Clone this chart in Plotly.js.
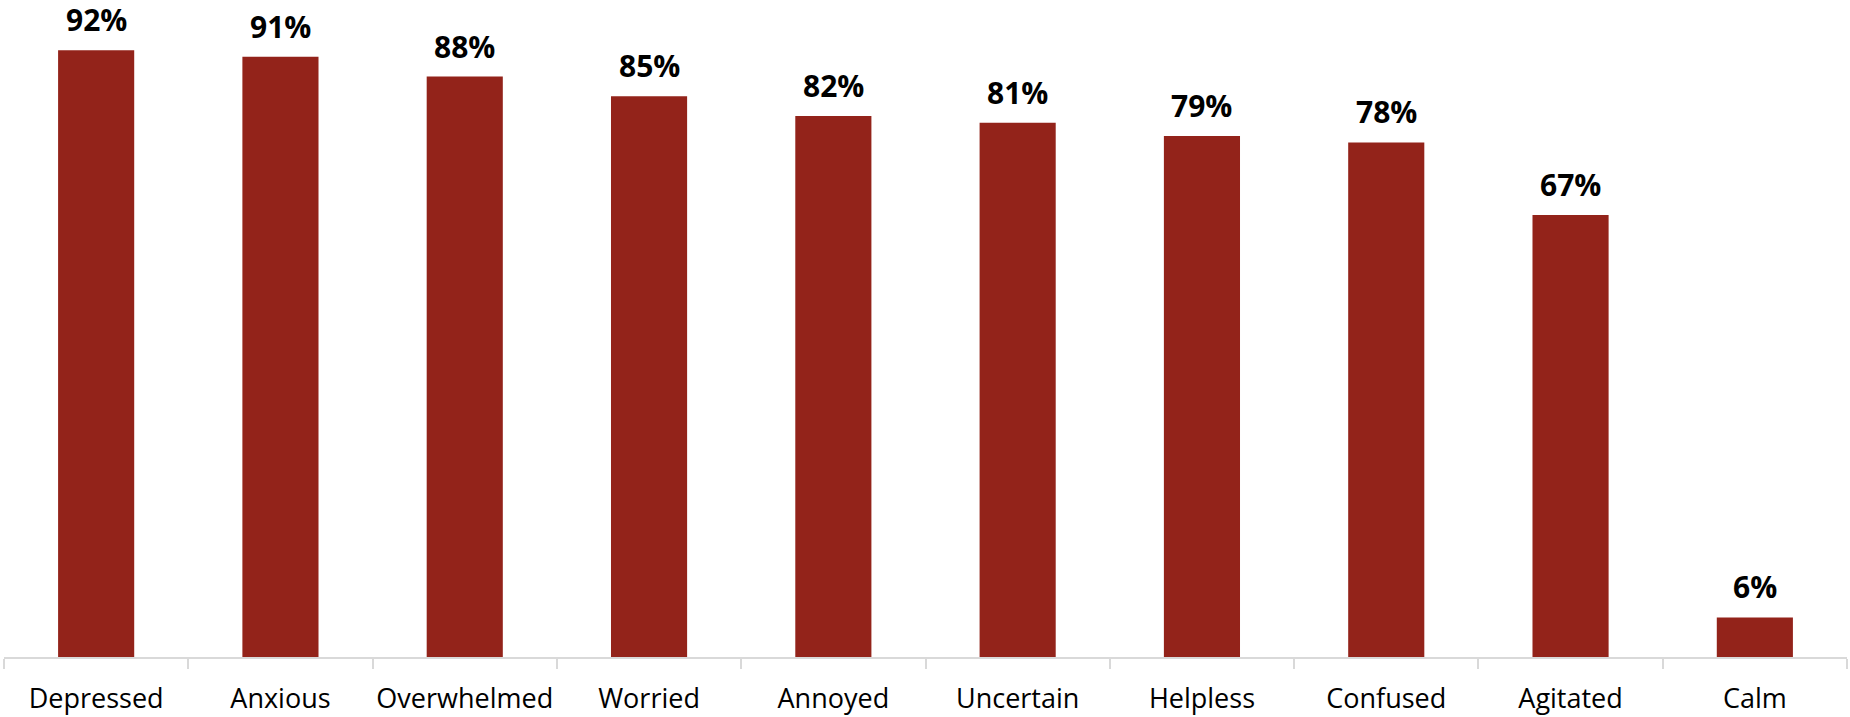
<!DOCTYPE html>
<html>
<head>
<meta charset="utf-8">
<script src="https://cdn.plot.ly/plotly-3.0.1.min.js"></script>
<style>html,body{margin:0;padding:0;background:#fff;}#chart{width:1850px;height:717px;}</style>
</head>
<body>
<div id="chart"></div>
<script>
const categories = ["Depressed","Anxious","Overwhelmed","Worried","Annoyed","Uncertain","Helpless","Confused","Agitated","Calm"];
const values = [92, 91, 88, 85, 82, 81, 79, 78, 67, 6];
const labels = values.map(v => v + "%");

const trace = {
  type: "bar",
  x: categories,
  y: values,
  marker: {color: "#93231A", line: {width: 0}},
  hoverinfo: "none",
  cliponaxis: false
};

const annotations = categories.map((c, i) => ({
  x: c, y: values[i], xref: "x", yref: "y",
  text: "<b>" + labels[i] + "</b>",
  showarrow: false, yanchor: "bottom", yshift: 9, borderpad: 0,
  font: {family: "Open Sans", size: 30, color: "#000"}
}));

const layout = {
  width: 1850, height: 717,
  margin: {l: 4, r: 3, t: 0, b: 60},
  paper_bgcolor: "#fff", plot_bgcolor: "#fff",
  bargap: 0.587,
  showlegend: false,
  xaxis: {
    type: "category",
    showline: true, linecolor: "#d9d9d9", linewidth: 2,
    ticks: "outside", tickson: "boundaries", ticklen: 10, tickcolor: "#d9d9d9", tickwidth: 2,
    tickangle: 0,
    ticklabelstandoff: 17,
    showgrid: false, zeroline: false,
    tickfont: {family: "Open Sans", size: 27, color: "#000"}
  },
  yaxis: {
    range: [0, 99.6], visible: false, showgrid: false, zeroline: false, fixedrange: true
  },
  annotations: annotations
};

Plotly.newPlot("chart", [trace], layout, {displayModeBar: false, staticPlot: true});
</script>
</body>
</html>
